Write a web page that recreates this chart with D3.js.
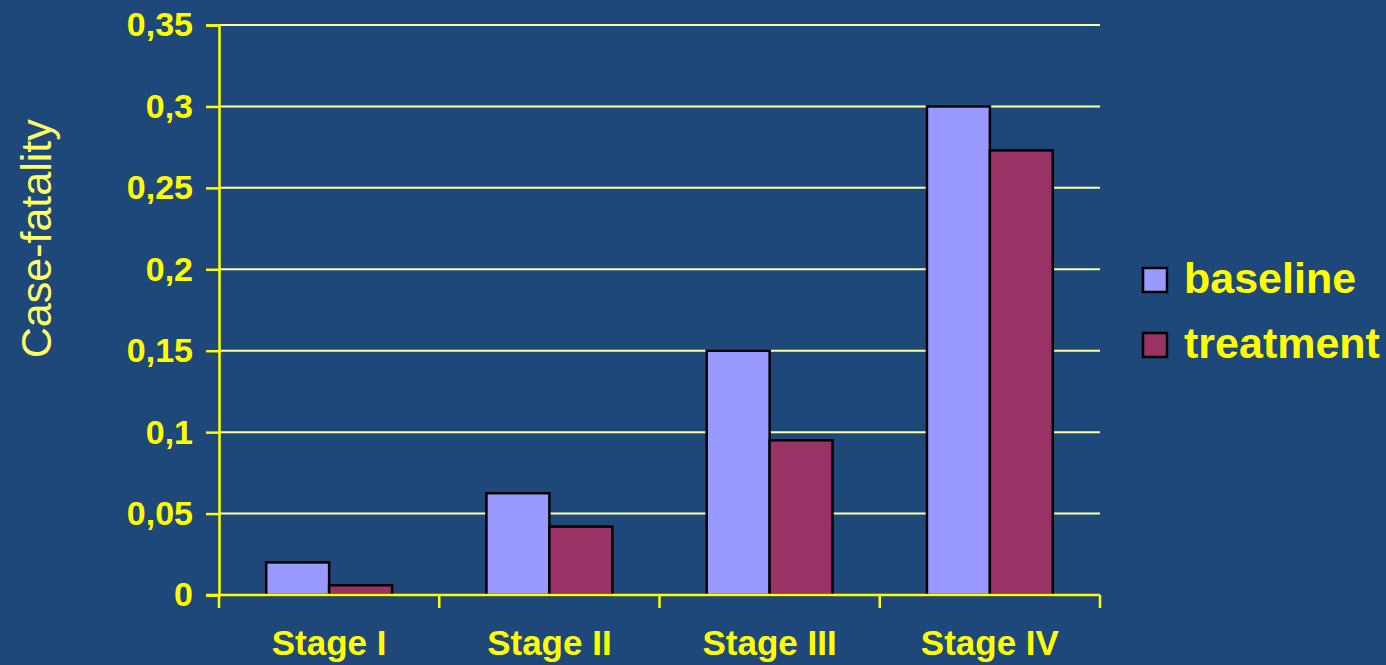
<!DOCTYPE html>
<html>
<head>
<meta charset="utf-8">
<script src="https://cdn.jsdelivr.net/npm/d3@7/dist/d3.min.js"></script>
<style>
  body { margin: 0; background: #1f487a; }
  svg { display: block; }
</style>
</head>
<body>
<svg id="chart" width="1386" height="665"></svg>
<script>
// data
var stages = ["Stage I", "Stage II", "Stage III", "Stage IV"];
var baseline = [0.02, 0.0625, 0.15, 0.30];
var treatment = [0.006, 0.042, 0.095, 0.273];
var seriesNames = ["baseline", "treatment"];
var yTicks = [0, 0.05, 0.1, 0.15, 0.2, 0.25, 0.3, 0.35];

var svg = d3.select("#chart"),
    width = +svg.attr("width"),
    height = +svg.attr("height");

var margin = {left: 219, right: 286, top: 25, bottom: 70};
var plotW = width - margin.left - margin.right,
    plotH = height - margin.top - margin.bottom;

var colors = d3.scaleOrdinal().domain(seriesNames).range(["#9999ff", "#993366"]);
var tickYellow = "#ffff00";
var font = "'Liberation Sans', Arial, sans-serif";

var x = d3.scaleBand().domain(stages).range([0, plotW]);
// excel style gap width 150%
var x1 = d3.scaleBand().domain(seriesNames)
    .range([x.bandwidth() * 0.75 / 3.5, x.bandwidth() * 2.75 / 3.5]);
var y = d3.scaleLinear().domain([0, 0.35]).range([plotH, 0]);

var g = svg.append("g").attr("transform", "translate(" + margin.left + "," + margin.top + ")");

// gridlines
g.append("g").selectAll("line")
    .data(yTicks.slice(1))
    .enter().append("line")
    .attr("x1", 0).attr("x2", plotW)
    .attr("y1", function(d) { return y(d); })
    .attr("y2", function(d) { return y(d); })
    .attr("stroke", "#ffffa0")
    .attr("stroke-width", 2);

// bars
var rows = stages.map(function(s, i) {
    return {stage: s, values: [
        {key: "baseline", value: baseline[i]},
        {key: "treatment", value: treatment[i]}
    ]};
});

g.append("g").selectAll("g")
    .data(rows)
    .enter().append("g")
    .attr("transform", function(d) { return "translate(" + x(d.stage) + ",0)"; })
    .selectAll("rect")
    .data(function(d) { return d.values; })
    .enter().append("rect")
    .attr("x", function(d) { return x1(d.key); })
    .attr("width", x1.bandwidth())
    .attr("y", function(d) { return y(d.value); })
    .attr("height", function(d) { return plotH - y(d.value); })
    .attr("fill", function(d) { return colors(d.key); })
    .attr("stroke", "#000")
    .attr("stroke-width", 2.5);

// y axis
var yAxis = g.append("g")
    .call(d3.axisLeft(y).tickValues(yTicks).tickSize(13).tickPadding(13)
        .tickFormat(function(d) { return String(d).replace(".", ","); }));
yAxis.select(".domain").attr("stroke", tickYellow).attr("stroke-width", 2.5);
yAxis.selectAll(".tick line").attr("stroke", tickYellow).attr("stroke-width", 2.5);
yAxis.selectAll(".tick text")
    .attr("fill", tickYellow)
    .style("font-family", font)
    .style("font-weight", "bold")
    .style("font-size", "34px");

// x axis
var xAxis = g.append("g")
    .attr("transform", "translate(0," + plotH + ")")
    .call(d3.axisBottom(x).tickSize(0).tickPadding(35));
xAxis.select(".domain").remove();
xAxis.append("line")
    .attr("x1", -13).attr("x2", plotW)
    .attr("stroke", tickYellow).attr("stroke-width", 2.5);
xAxis.selectAll(".sep")
    .data(d3.range(stages.length + 1))
    .enter().append("line")
    .attr("class", "sep")
    .attr("x1", function(i) { return i * x.step(); })
    .attr("x2", function(i) { return i * x.step(); })
    .attr("y1", 0).attr("y2", 13)
    .attr("stroke", tickYellow).attr("stroke-width", 2.5);
xAxis.selectAll(".tick text")
    .attr("fill", tickYellow)
    .style("font-family", font)
    .style("font-weight", "bold")
    .style("font-size", "35px");

// y axis title
svg.append("text")
    .attr("transform", "translate(51," + (margin.top + plotH * 0.375) + ") rotate(-90)")
    .attr("text-anchor", "middle")
    .attr("fill", "#ffff66")
    .style("font-family", font)
    .style("font-size", "43px")
    .text("Case-fatality");

// legend
var legend = svg.append("g").attr("transform", "translate(1143,268)")
    .selectAll("g")
    .data(seriesNames)
    .enter().append("g")
    .attr("transform", function(d, i) { return "translate(0," + (i * 65) + ")"; });
legend.append("rect")
    .attr("width", 24).attr("height", 24)
    .attr("fill", function(d) { return colors(d); })
    .attr("stroke", "#000").attr("stroke-width", 2.5);
legend.append("text")
    .attr("x", 41).attr("y", 25)
    .attr("fill", tickYellow)
    .style("font-family", font)
    .style("font-weight", "bold")
    .style("font-size", "43px")
    .text(function(d) { return d; });
</script>
</body>
</html>
